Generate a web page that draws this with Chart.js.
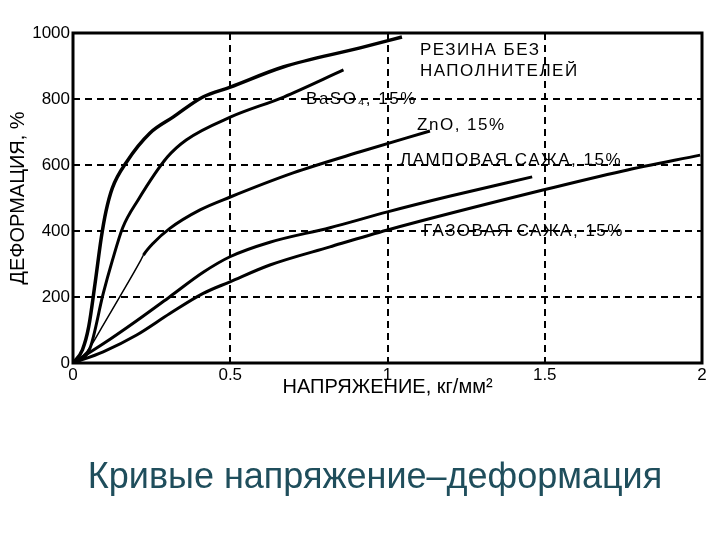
<!DOCTYPE html>
<html>
<head>
<meta charset="utf-8">
<script src="https://cdn.jsdelivr.net/npm/chart.js@4/dist/chart.umd.min.js"></script>
<style>
  html, body { margin: 0; padding: 0; background: #fff; }
  #wrap { width: 720px; height: 540px; }
</style>
</head>
<body>
<div id="wrap"><canvas id="myChart" width="720" height="540"></canvas></div>
<script>
  // The data block: stress (kg/mm2) vs strain (%)
  const rubberX = [0, 0.03, 0.05, 0.07, 0.09, 0.105, 0.125, 0.171, 0.245, 0.318, 0.413, 0.5, 0.668, 0.913, 1.046];
  const rubberY = [0, 40, 110, 240, 380, 460, 530, 610, 697, 745, 806, 836, 897, 955, 988];

  const baso4X = [0, 0.054, 0.096, 0.125, 0.158, 0.207, 0.3, 0.36, 0.5, 0.67, 0.86];
  const baso4Y = [0, 45, 210, 310, 410, 494, 624, 676, 745, 806, 888];

  const znoX = [0, 0.044, 0.096, 0.149, 0.213, 0.224, 0.255, 0.308, 0.404, 0.5, 0.7, 0.913, 1.135];
  const znoY = [0, 34, 115, 201, 307, 327, 363, 408, 464, 503, 576, 640, 703];

  const lampX = [0, 0.096, 0.2025, 0.308, 0.414, 0.499, 0.626, 0.817, 1.0, 1.2, 1.46];
  const lampY = [0, 58, 128, 201, 275, 322, 366, 410, 458, 506, 564];

  const gasX = [0, 0.096, 0.2025, 0.308, 0.414, 0.499, 0.626, 0.817, 1.0, 1.494, 1.749, 1.994];
  const gasY = [0, 34, 85, 150, 211, 246, 297, 352, 403, 524, 582, 630];

  const xTicks = [0, 0.5, 1, 1.5, 2];
  const xTickLabels = ['0', '0.5', '1', '1.5', '2'];
  const yTicks = [0, 200, 400, 600, 800, 1000];
  const yTickLabels = ['0', '200', '400', '600', '800', '1000'];

  // curve captions and where they sit (in axis units)
  const curveNames = ['РЕЗИНА БЕЗ', 'НАПОЛНИТЕЛЕЙ', 'BaSO₄, 15%', 'ZnO, 15%', 'ЛАМПОВАЯ САЖА, 15%', 'ГАЗОВАЯ САЖА, 15%'];
  const nameAtX = [1.103, 1.103, 0.741, 1.094, 1.04, 1.113];
  const nameAtY = [948, 885, 800, 721, 615, 400];

  const caption = 'Кривые напряжение–деформация';

  const zip = (xs, ys) => xs.map((x, i) => ({ x: x, y: ys[i] }));

  Chart.defaults.font.family = "'Liberation Sans', Arial, sans-serif";
  Chart.defaults.color = '#000';

  // solid frame round the plot, curve captions and the slide caption
  const frameAndNames = {
    id: 'frameAndNames',
    beforeDatasetsDraw(chart) {
      const { ctx, chartArea: a } = chart;
      ctx.save();
      ctx.strokeStyle = '#000';
      ctx.lineWidth = 3;
      ctx.strokeRect(a.left, a.top, a.right - a.left, a.bottom - a.top);
      ctx.restore();
    },
    afterDraw(chart) {
      const { ctx, scales } = chart;
      ctx.save();
      ctx.fillStyle = '#000';
      ctx.font = "17px 'Liberation Sans', Arial, sans-serif";
      ctx.letterSpacing = '1.5px';
      ctx.textAlign = 'left';
      ctx.textBaseline = 'middle';
      curveNames.forEach((t, i) => {
        ctx.fillText(t, scales.x.getPixelForValue(nameAtX[i]), scales.y.getPixelForValue(nameAtY[i]));
      });
      ctx.letterSpacing = '0px';
      ctx.fillStyle = '#1f4e5c';
      ctx.font = "36px 'Liberation Sans', Arial, sans-serif";
      ctx.textAlign = 'center';
      ctx.fillText(caption, 375, 478);
      ctx.restore();
    }
  };

  const hideEdges = (ctx) => {
    const v = ctx.tick ? ctx.tick.value : null;
    return (v === 0 || v === 2 || v === 1000) ? 'rgba(0,0,0,0)' : '#000';
  };

  const data = {
    datasets: [
      { label: 'Резина без наполнителей', data: zip(rubberX, rubberY), borderWidth: 3.5 },
      { label: 'BaSO4, 15%', data: zip(baso4X, baso4Y), borderWidth: 3 },
      {
        label: 'ZnO, 15%', data: zip(znoX, znoY), borderWidth: 3,
        segment: { borderWidth: ctx => ctx.p0.parsed.x < 0.22 ? 1.5 : 3 }
      },
      { label: 'Ламповая сажа, 15%', data: zip(lampX, lampY), borderWidth: 3 },
      { label: 'Газовая сажа, 15%', data: zip(gasX, gasY), borderWidth: 3 }
    ].map(d => Object.assign({
      borderColor: '#000',
      backgroundColor: '#000',
      pointRadius: 0,
      fill: false,
      cubicInterpolationMode: 'monotone'
    }, d))
  };

  const config = {
    type: 'line',
    data: data,
    options: {
      responsive: false,
      animation: false,
      events: [],
      layout: { padding: { top: 33, right: 18, left: 0, bottom: 0 } },
      plugins: {
        legend: { display: false },
        tooltip: { enabled: false }
      },
      scales: {
        x: {
          type: 'linear',
          min: 0,
          max: 2,
          afterBuildTicks: s => { s.ticks = xTicks.map(v => ({ value: v })); },
          afterFit: s => { s.height = 177; },
          ticks: {
            callback: (v, i) => xTickLabels[i],
            font: { size: 17 },
            padding: 2,
            maxRotation: 0
          },
          grid: { color: hideEdges, lineWidth: 2, drawTicks: false },
          border: { display: false, dash: [7, 5] },
          title: {
            display: true,
            text: 'НАПРЯЖЕНИЕ, кг/мм²',
            font: { size: 20 },
            padding: { top: 0, bottom: 141 }
          }
        },
        y: {
          min: 0,
          max: 1000,
          afterBuildTicks: s => { s.ticks = yTicks.map(v => ({ value: v })); },
          afterFit: s => { s.width = 73; },
          ticks: {
            callback: (v, i) => yTickLabels[i],
            font: { size: 17 },
            padding: 3
          },
          grid: { color: hideEdges, lineWidth: 2, drawTicks: false },
          border: { display: false, dash: [7, 5] },
          title: {
            display: true,
            text: 'ДЕФОРМАЦИЯ, %',
            font: { size: 20 },
            padding: { top: 6, bottom: 0 }
          }
        }
      }
    },
    plugins: [frameAndNames]
  };

  // The render block
  const myChart = new Chart(document.getElementById('myChart'), config);
</script>
</body>
</html>
